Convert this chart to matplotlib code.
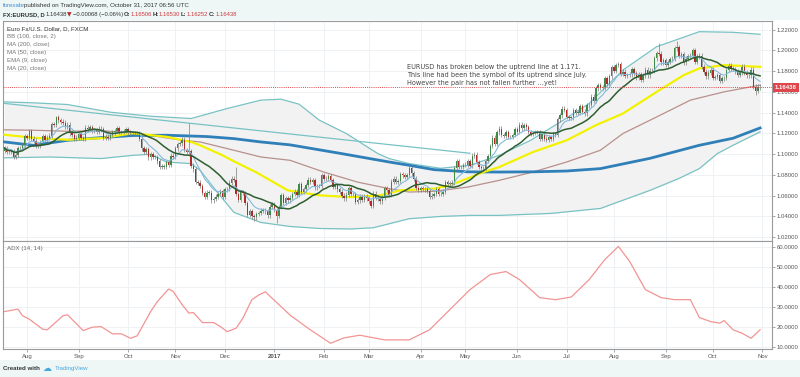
import numpy as np
import pandas as pd
import matplotlib
matplotlib.use("Agg")
import matplotlib.pyplot as plt
from matplotlib.patches import Rectangle

plt.rcParams["font.family"] = ["Liberation Sans", "DejaVu Sans"]

# daily closes EUR/USD, one list per month
close_jul16 = [1.1060, 1.1020, 1.1025, 1.1030, 1.0975, 1.0995, 1.1055, 1.1060, 1.1085, 1.1175]
close_aug16 = [1.1160, 1.1225, 1.1150, 1.1130, 1.1085, 1.1085, 1.1115, 1.1175, 1.1135, 1.1160, 1.1180, 1.1290,
               1.1285, 1.1355, 1.1325, 1.1315, 1.1305, 1.1265, 1.1285, 1.1200, 1.1185, 1.1145, 1.1160]
close_sep16 = [1.1195, 1.1155, 1.1150, 1.1255, 1.1240, 1.1260, 1.1230, 1.1235, 1.1215, 1.1245, 1.1240, 1.1155,
               1.1170, 1.1155, 1.1185, 1.1210, 1.1225, 1.1250, 1.1215, 1.1215, 1.1225, 1.1240]
close_oct16 = [1.1210, 1.1205, 1.1205, 1.1200, 1.1200, 1.1145, 1.1055, 1.1025, 1.1050, 1.0970, 1.1000, 1.0975,
               1.0975, 1.0930, 1.0880, 1.0880, 1.0880, 1.0920, 1.0900, 1.0985, 1.0975]
close_nov16 = [1.1055, 1.1100, 1.1105, 1.1140, 1.1040, 1.1025, 1.1030, 1.0890, 1.0855, 1.0730, 1.0725, 1.0695,
               1.0625, 1.0590, 1.0630, 1.0630, 1.0555, 1.0570, 1.0590, 1.0615, 1.0645, 1.0590]
close_dec16 = [1.0660, 1.0665, 1.0725, 1.0765, 1.0755, 1.0615, 1.0560, 1.0635, 1.0625, 1.0530, 1.0415, 1.0450,
               1.0400, 1.0390, 1.0425, 1.0435, 1.0455, 1.0455, 1.0450, 1.0410, 1.0495, 1.0520]
close_jan17 = [1.0460, 1.0405, 1.0490, 1.0605, 1.0530, 1.0575, 1.0555, 1.0580, 1.0615, 1.0640, 1.0605, 1.0710,
               1.0635, 1.0660, 1.0705, 1.0755, 1.0730, 1.0750, 1.0680, 1.0695, 1.0695, 1.0800]
close_feb17 = [1.0760, 1.0765, 1.0785, 1.0750, 1.0685, 1.0700, 1.0660, 1.0640, 1.0600, 1.0575, 1.0610, 1.0675,
               1.0615, 1.0615, 1.0540, 1.0555, 1.0590, 1.0560, 1.0590, 1.0575]
close_mar17 = [1.0545, 1.0505, 1.0620, 1.0580, 1.0570, 1.0545, 1.0580, 1.0670, 1.0655, 1.0610, 1.0735, 1.0765,
               1.0735, 1.0740, 1.0805, 1.0795, 1.0780, 1.0800, 1.0865, 1.0815, 1.0765, 1.0675, 1.0655]
close_apr17 = [1.0670, 1.0665, 1.0660, 1.0645, 1.0590, 1.0600, 1.0615, 1.0665, 1.0615, 1.0615, 1.0640, 1.0730,
               1.0715, 1.0715, 1.0725, 1.0865, 1.0930, 1.0875, 1.0875, 1.0895]
close_may17 = [1.0900, 1.0930, 1.0885, 1.0985, 1.0995, 1.0925, 1.0875, 1.0865, 1.0865, 1.0935, 1.0980, 1.1080,
               1.1160, 1.1100, 1.1210, 1.1245, 1.1185, 1.1180, 1.1210, 1.1165, 1.1165, 1.1185, 1.1240]
close_jun17 = [1.1215, 1.1285, 1.1250, 1.1280, 1.1260, 1.1215, 1.1195, 1.1205, 1.1215, 1.1215, 1.1150, 1.1195,
               1.1150, 1.1135, 1.1165, 1.1150, 1.1195, 1.1185, 1.1335, 1.1375, 1.1440, 1.1425]
close_jul17 = [1.1360, 1.1350, 1.1350, 1.1425, 1.1400, 1.1400, 1.1465, 1.1410, 1.1395, 1.1470, 1.1475, 1.1555,
               1.1515, 1.1635, 1.1665, 1.1640, 1.1645, 1.1730, 1.1680, 1.1750, 1.1840]
close_aug17 = [1.1800, 1.1860, 1.1865, 1.1775, 1.1795, 1.1755, 1.1765, 1.1770, 1.1820, 1.1780, 1.1735, 1.1770,
               1.1720, 1.1760, 1.1815, 1.1760, 1.1805, 1.1800, 1.1925, 1.1975, 1.1970, 1.1885, 1.1905]
close_sep17 = [1.1860, 1.1890, 1.1915, 1.1920, 1.2020, 1.2035, 1.1950, 1.1965, 1.1885, 1.1920, 1.1945, 1.1950,
               1.2000, 1.1890, 1.1940, 1.1950, 1.1845, 1.1795, 1.1750, 1.1785, 1.1815]
close_oct17 = [1.1735, 1.1745, 1.1760, 1.1705, 1.1730, 1.1735, 1.1810, 1.1855, 1.1825, 1.1820, 1.1795, 1.1765,
               1.1790, 1.1845, 1.1785, 1.1760, 1.1760, 1.1815, 1.1650, 1.1610, 1.16506, 1.16438]
first_open = 1.1035

# notable wicks
big_high = {"2016-11-09": 1.1299, "2016-12-08": 1.0874, "2017-08-29": 1.2070, "2017-09-08": 1.2092,
            "2016-08-18": 1.1366, "2017-03-27": 1.0906}
big_low = {"2017-01-03": 1.0340, "2016-12-20": 1.0352, "2017-10-27": 1.1575}

# indicators (bar number, value)
ma200_bar = [0, 13, 28, 43, 57, 72, 90, 102, 114, 127, 149, 171, 180, 191, 206, 220, 235, 250, 265, 287, 309, 324, 336]
ma200_val = [1.1118, 1.1085, 1.1134, 1.1160, 1.1180, 1.1183, 1.1170, 1.1150, 1.1118, 1.1090, 1.1009, 1.0925,
             1.0893, 1.0851, 1.0830, 1.0828, 1.0830, 1.0838, 1.0861, 1.0960, 1.1086, 1.1154, 1.1253]
ma50_bar = [0, 13, 28, 43, 57, 72, 83, 87, 97, 102, 112, 126, 140, 154, 167, 176, 191, 198, 206, 213, 220, 235,
            250, 263, 275, 290, 302, 309, 320, 336]
ma50_val = [1.1187, 1.1158, 1.1139, 1.1154, 1.1202, 1.1168, 1.1118, 1.1086, 1.0989, 1.0931, 1.0825, 1.0651,
            1.0603, 1.0586, 1.0603, 1.0651, 1.0668, 1.0699, 1.0767, 1.0828, 1.0876, 1.1021, 1.1134, 1.1280,
            1.1392, 1.1601, 1.1762, 1.1827, 1.1859, 1.1842]
bb_mid_bar = [0, 13, 28, 43, 57, 79, 87, 102, 114, 127, 142, 157, 171, 180, 191, 206, 220, 235, 250, 265, 275,
              290, 305, 320, 336]
bb_mid_val = [1.1235, 1.1231, 1.1221, 1.1226, 1.1207, 1.1134, 1.1118, 1.1038, 1.0973, 1.0941, 1.0828, 1.0731,
              1.0668, 1.0635, 1.0642, 1.0683, 1.0748, 1.0828, 1.0925, 1.1038, 1.1199, 1.1359, 1.1521, 1.1601, 1.1666]
bb_up_bar = [0, 13, 28, 47, 65, 83, 99, 114, 123, 131, 140, 152, 159, 166, 171, 180, 194, 207, 220, 234, 247,
             260, 275, 290, 309, 324, 336]
bb_up_val = [1.1504, 1.1495, 1.1479, 1.1405, 1.1366, 1.1344, 1.1440, 1.1521, 1.1530, 1.1482, 1.1328, 1.1199,
             1.1102, 1.1006, 1.0958, 1.0909, 1.0864, 1.0893, 1.0989, 1.1134, 1.1308, 1.1489, 1.1811, 1.2036,
             1.2181, 1.2175, 1.2156]
bb_lo_bar = [0, 20, 43, 57, 65, 72, 83, 87, 94, 102, 114, 127, 140, 154, 164, 171, 180, 194, 207, 220, 243, 265,
             287, 300, 309, 317, 324, 336]
bb_lo_val = [1.0965, 1.0973, 1.0958, 1.0989, 1.0999, 1.0925, 1.0909, 1.0844, 1.0650, 1.0439, 1.0342, 1.0303,
             1.0284, 1.0279, 1.0291, 1.0329, 1.0378, 1.0400, 1.0410, 1.0410, 1.0429, 1.0477, 1.0651, 1.0767,
             1.0861, 1.1006, 1.1086, 1.1215]
trend_bar = [-1, 207]
trend_val = [1.1492, 1.1009]

adx_bar = [0, 6, 8, 11, 17, 19, 26, 28, 31, 35, 39, 43, 48, 52, 56, 59, 65, 68, 73, 75, 79, 82, 84, 88, 93, 96,
           99, 103, 106, 110, 113, 116, 127, 136, 145, 151, 158, 169, 180, 189, 198, 207, 216, 223, 229, 238,
           245, 252, 260, 267, 273, 278, 285, 292, 298, 305, 309, 314, 318, 320, 324, 328, 332, 336]
adx_val = [27.8, 29.0, 25.7, 24.0, 19.0, 18.7, 25.7, 26.2, 22.8, 18.3, 20.0, 20.3, 16.7, 16.7, 14.5, 15.7, 27.8,
           32.8, 39.0, 37.8, 31.2, 27.0, 27.3, 22.3, 22.3, 20.3, 17.8, 19.5, 24.5, 33.7, 36.0, 37.6, 26.0, 18.7,
           12.0, 14.7, 16.0, 13.7, 13.7, 18.7, 28.7, 38.7, 46.2, 47.7, 43.7, 34.7, 33.7, 35.0, 43.7, 53.7, 60.2,
           52.7, 38.7, 34.7, 33.7, 33.7, 24.8, 22.8, 22.0, 23.3, 18.7, 17.0, 14.5, 18.7]

closes = np.array(close_jul16 + close_aug16 + close_sep16 + close_oct16 + close_nov16 + close_dec16 +
                  close_jan17 + close_feb17 + close_mar17 + close_apr17 + close_may17 + close_jun17 +
                  close_jul17 + close_aug17 + close_sep17 + close_oct17)
dates = pd.bdate_range("2016-07-18", "2017-10-31")
n = len(closes)
xs = np.arange(n)
opens = np.concatenate([[first_open], closes[:-1]])
highs = np.maximum(opens, closes) + 0.0022
lows = np.minimum(opens, closes) - 0.0022
for d, v in big_high.items():
    highs[dates.get_loc(pd.Timestamp(d))] = v
for d, v in big_low.items():
    lows[dates.get_loc(pd.Timestamp(d))] = v

s = pd.Series(closes)
ma20 = s.rolling(20, min_periods=1).mean().values
ema9 = s.ewm(span=9, adjust=False).mean().values

# month ticks
month_pos, month_lab = [], []
prev = None
for i, d in enumerate(dates):
    if d.month != prev:
        if i > 0:
            month_pos.append(i)
            month_lab.append("2017" if d.month == 1 else d.strftime("%b"))
        prev = d.month
month_pos.append(n)
month_lab.append("Nov")

W, H = 800, 377
fig = plt.figure(figsize=(W / 100, H / 100), dpi=100, facecolor="#eef6f6")
fig.patches.append(Rectangle((0, 1 - 360 / H), 1, 340 / H, transform=fig.transFigure,
                             facecolor="white", edgecolor="none", zorder=-5))

left, right = 3 / W, 772 / W
ax = fig.add_axes([left, 1 - 240.5 / H, right - left, 219.5 / H])
ax2 = fig.add_axes([left, 1 - 349 / H, right - left, 108.5 / H])

xlim = (-0.67, 341.3)
for a in (ax, ax2):
    a.set_xlim(*xlim)
    a.set_facecolor("white")
    a.yaxis.tick_right()
    a.tick_params(axis="y", length=2, width=0.6, color="#999", labelsize=4.3, labelcolor="#555", pad=1.5)
    a.tick_params(axis="x", length=2, width=0.6, color="#999", labelsize=4.3, labelcolor="#555", pad=1.5)
    a.set_xticks(month_pos)
    a.grid(True, color="#edf0f2", lw=0.6)
    a.set_axisbelow(True)
    for sp in a.spines.values():
        sp.set_color("#9a9a9a")
        sp.set_linewidth(0.8)

ax.set_xticklabels([])
ax2.set_xticklabels(month_lab)
for lab in ax2.get_xticklabels():
    if lab.get_text() == "2017":
        lab.set_fontweight("bold")

# price panel
ax.set_ylim(1.0168, 1.2284)
pt = [1.02 + 0.02 * k for k in range(11)]
ax.set_yticks(pt)
ax.set_yticklabels(["%.5f" % v for v in pt])

bb_x = np.arange(0, 337)
up_i = np.interp(bb_x, bb_up_bar, bb_up_val)
lo_i = np.interp(bb_x, bb_lo_bar, bb_lo_val)
ax.fill_between(bb_x, lo_i, up_i, color="#f2f2f2", lw=0, zorder=1)
ax.plot(bb_up_bar, bb_up_val, color="#79c2c4", lw=0.9, zorder=2)
ax.plot(bb_lo_bar, bb_lo_val, color="#79c2c4", lw=0.9, zorder=2)
ax.plot(bb_mid_bar, bb_mid_val, color="#b8908c", lw=0.9, zorder=2)
ax.plot(trend_bar, trend_val, color="#79c2c4", lw=0.9, zorder=2)
ax.plot(ma200_bar, ma200_val, color="#2f7fb8", lw=2.0, zorder=3)
ax.plot(ma50_bar, ma50_val, color="#f2f200", lw=1.6, zorder=3)

# candles
up = closes >= opens
ccol = np.where(up, "#3f8a46", "#b02a2a")
ax.vlines(xs, lows, highs, colors="#7d7d7d", lw=0.5, zorder=4)
body_h = np.maximum(np.abs(closes - opens), 0.0004)
ax.bar(xs, body_h, bottom=np.minimum(opens, closes), width=0.62, color=ccol, lw=0, zorder=5)

ax.plot(xs, ema9, color="#86b9dc", lw=0.8, zorder=6)
ax.plot(xs, ma20, color="#2e5e30", lw=1.1, zorder=6)

last = closes[-1]
ax.axhline(last, color="#e0474c", lw=0.7, ls=(0, (1, 1.2)), zorder=7)

# ADX panel
ax2.set_ylim(9.15, 63.15)
at = [10, 20, 30, 40, 50, 60]
ax2.set_yticks(at)
ax2.set_yticklabels(["%.4f" % v for v in at])
ax2.plot(adx_bar, adx_val, color="#f39494", lw=0.9)


def px(x, y):
    return x / W, 1 - y / H


# price label on the axis
fig.patches.append(Rectangle(px(773, 91.5), 26 / W, 8 / H, transform=fig.transFigure,
                             facecolor="#e0474c", edgecolor="none", zorder=5))
fig.text(*px(786, 87.4), "%.5f" % last, color="white", fontsize=4.3, fontweight="bold",
         ha="center", va="center", zorder=6)

renderer = fig.canvas.get_renderer()
red = "#d0393e"
dark = "#333333"
FS = 4.4

fig.text(*px(3, 5.7), "forexabr", color="#3d8fd6", fontsize=FS, va="center")
fig.text(*px(24.5, 5.7), "published on TradingView.com, October 31, 2017 06:56 UTC", color=dark,
         fontsize=FS, va="center")

# header line 2: each piece at its place, pushed right if the previous one runs long
hdr = [(3, "FX:EURUSD, D", dark, "bold"), (45, "1.16438", dark, "normal"),
       (66.5, "\u25bc", "#b02a2a", "normal"), (73, "\u22120.00068 (\u22120.06%)", dark, "normal"),
       (121, "O:", dark, "bold"), (127, "1.16506", red, "normal"),
       (151, "H:", dark, "bold"), (157, "1.16530", red, "normal"),
       (180, "L:", dark, "bold"), (185, "1.16252", red, "normal"),
       (208.3, "C:", dark, "bold"), (214, "1.16438", red, "normal")]
cursor = 0
for x, t, c, w in hdr:
    x = max(x, cursor)
    fam = ["DejaVu Sans"] if t == "\u25bc" else ["Liberation Sans"]
    tt = fig.text(*px(x, 14.7), t, color=c, fontsize=4.2, fontweight=w, family=fam, va="center")
    cursor = x + tt.get_window_extent(renderer=renderer).width + 0.4

fig.text(*px(7, 28.3), "Euro Fx/U.S. Dollar, D, FXCM", color="#333", fontsize=FS, va="center")
legend = ["BB (100, close, 2)", "MA (200, close)", "MA (50, close)", "EMA (9, close)", "MA (20, close)"]
for k, lab in enumerate(legend):
    fig.text(*px(7, 36.2 + 8 * k), lab, color="#777", fontsize=FS, va="center")

note = ["EURUSD has broken below the uptrend line at 1.171.",
        "This line had been the symbol of its uptrend since July.",
        "However the pair has not fallen further ...yet!"]
for k, line in enumerate(note):
    fig.text(*px(407, 67.3 + 7.6 * k), line, color="#444", fontsize=4.7, family="DejaVu Sans", va="center")

fig.text(*px(7, 248.3), "ADX (14, 14)", color="#666", fontsize=FS, va="center")

fig.text(*px(3, 368.7), "Created with", color="#333", fontsize=FS, fontweight="bold", va="center")
fig.text(*px(42.5, 368.7), "\u2601", color="#49a8e0", fontsize=6.5, family="DejaVu Sans", va="center")
fig.text(*px(55, 368.7), "TradingView", color="#49a8e0", fontsize=FS, va="center")

fig.savefig("out.png", dpi=100, facecolor=fig.get_facecolor())
